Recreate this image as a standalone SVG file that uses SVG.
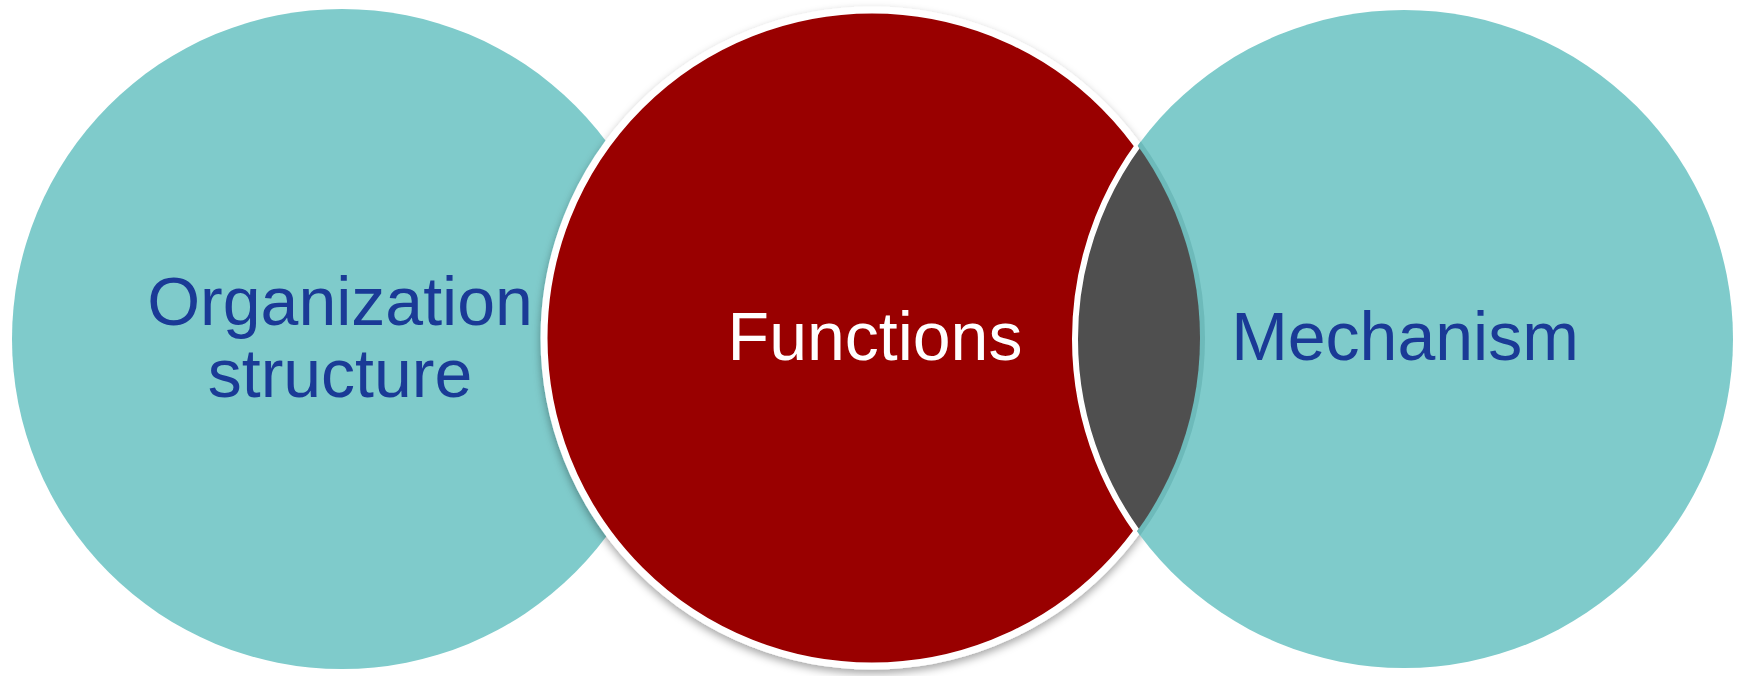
<svg xmlns="http://www.w3.org/2000/svg" width="1741" height="676" viewBox="0 0 1741 676">
  <style>
    .teal { fill: #7FCBCB; }
    .lbl { font-family: "Liberation Sans", Arial, sans-serif; font-size: 68px; text-anchor: middle; }
    .blue { fill: #1A3A96; }
    .white { fill: #FFFFFF; }
  </style>
  <defs>
    <filter id="shadow" x="-10%" y="-10%" width="120%" height="125%">
      <feDropShadow dx="0" dy="4" stdDeviation="4" flood-color="#000000" flood-opacity="0.35"/>
    </filter>
    <clipPath id="clipRight">
      <circle cx="1404" cy="339" r="329"/>
    </clipPath>
    <clipPath id="clipMid">
      <circle cx="872" cy="338" r="328"/>
    </clipPath>
  </defs>

  <g id="node-organization">
    <circle class="teal" cx="342" cy="339" r="330"/>
    <text class="lbl blue" x="340" y="325">Organization</text>
    <text class="lbl blue" x="340" y="397">structure</text>
  </g>

  <g id="node-functions">
    <circle cx="872" cy="338" r="328" fill="#990000" stroke="#FFFFFF" stroke-width="7" filter="url(#shadow)"/>
  </g>

  <g id="node-mechanism">
    <circle class="teal" cx="1404" cy="339" r="329"/>
  </g>

  <g id="overlap">
    <g clip-path="url(#clipRight)">
      <circle cx="872" cy="338" r="329" fill="none" stroke="#6DBABA" stroke-width="8"/>
      <circle cx="872" cy="338" r="328" fill="#4F4F4F"/>
    </g>
    <g clip-path="url(#clipMid)">
      <circle cx="1404" cy="339" r="329" fill="none" stroke="#FFFFFF" stroke-width="6"/>
    </g>
  </g>

  <g id="labels">
    <text class="lbl white" x="875" y="360">Functions</text>
    <text class="lbl blue" x="1405" y="360">Mechanism</text>
  </g>

  <g id="connectors"/>
</svg>
